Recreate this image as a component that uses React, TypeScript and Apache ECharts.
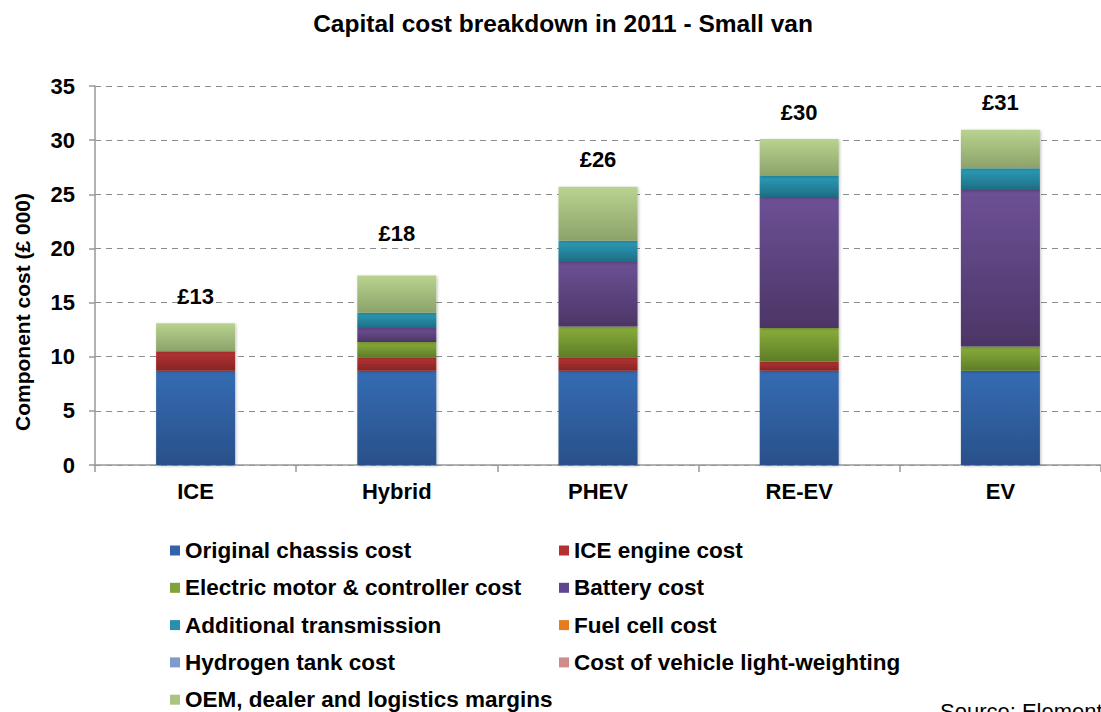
import React, { useEffect, useRef } from "react";
import * as echarts from "echarts";

const categories = ["ICE", "Hybrid", "PHEV", "RE-EV", "EV"];
const seriesNames = [
  "Original chassis cost",
  "ICE engine cost",
  "Electric motor & controller cost",
  "Battery cost",
  "Additional transmission",
  "Fuel cell cost",
  "Hydrogen tank cost",
  "Cost of vehicle light-weighting",
  "OEM, dealer and logistics margins",
];
const chassis = [8.7, 8.7, 8.7, 8.7, 8.7];
const iceEngine = [1.8, 1.25, 1.25, 0.85, 0];
const motor = [0, 1.4, 2.85, 3.1, 2.25];
const battery = [0, 1.3, 5.95, 12.1, 14.45];
const transmission = [0, 1.4, 1.95, 1.95, 2.0];
const fuelCell = [0, 0, 0, 0, 0];
const hydrogenTank = [0, 0, 0, 0, 0];
const lightWeighting = [0, 0, 0, 0, 0];
const margins = [2.6, 3.45, 5.0, 3.4, 3.55];
const totalLabels = ["£13", "£18", "£26", "£30", "£31"];
const yTicks = { min: 0, max: 35, interval: 5 };

const seriesValues = [
  chassis,
  iceEngine,
  motor,
  battery,
  transmission,
  fuelCell,
  hydrogenTank,
  lightWeighting,
  margins,
];

const grad = (top: string, bottom: string) =>
  new echarts.graphic.LinearGradient(0, 0, 0, 1, [
    { offset: 0, color: top },
    { offset: 1, color: bottom },
  ]);

const barColors = [
  ["#356cb3", "#29508a"],
  ["#b83434", "#872424"],
  ["#8aae3c", "#5e7d27"],
  ["#6d5196", "#4c3566"],
  ["#2c9dba", "#1d6d82"],
  ["#f08a24", "#c0661a"],
  ["#8aa6d4", "#6683b3"],
  ["#d99494", "#b57272"],
  ["#b9d38f", "#8ca26a"],
];
const legendColors = [
  "#3363a8",
  "#b53030",
  "#7fa23a",
  "#604590",
  "#2a8fac",
  "#e67c1e",
  "#7f9bcc",
  "#d08c8c",
  "#a9c47f",
];

const FONT = "'Liberation Sans', Arial, sans-serif";

export default function App() {
  const ref = useRef<HTMLDivElement>(null);
  useEffect(() => {
    if (!ref.current) return;
    const chart = echarts.init(ref.current, undefined, { renderer: "svg" });
    const series: any[] = seriesNames.map((name, si) => {
      const isTop = si === seriesNames.length - 1;
      return {
        name,
        type: "bar",
        stack: "total",
        barWidth: 79,
        itemStyle: {
          color: grad(barColors[si][0], barColors[si][1]),
          shadowColor: "rgba(0,0,0,0.25)",
          shadowBlur: 3,
          shadowOffsetX: 1,
          shadowOffsetY: 1,
        },
        emphasis: { disabled: true },
        data: seriesValues[si].map((v, i) =>
          isTop
            ? {
                value: v,
                label: { distance: i === 1 ? 31 : 16 },
              }
            : v
        ),
        label: isTop
          ? {
              show: true,
              position: "top",
              formatter: (p: any) => totalLabels[p.dataIndex],
              fontFamily: FONT,
              fontWeight: "bold",
              fontSize: 22,
              color: "#000",
            }
          : { show: false },
      };
    });
    const leftNames = [0, 2, 4, 6, 8].map((i) => seriesNames[i]);
    const rightNames = [1, 3, 5, 7].map((i) => seriesNames[i]);
    const legendCommon = {
      orient: "vertical",
      itemWidth: 10,
      itemHeight: 10,
      itemGap: 14.3,
      padding: 0,
      height: 300,
      icon: "rect",
      textStyle: {
        fontFamily: FONT,
        fontWeight: "bold",
        fontSize: 22.5,
        color: "#000",
        lineHeight: 22,
        padding: [0, 0, 0, 0],
      },
      selectedMode: false,
    };
    chart.setOption({
      animation: false,
      color: legendColors,
      title: {
        text: "Capital cost breakdown in 2011 - Small van",
        left: 558,
        top: 6,
        textAlign: "center",
        textStyle: { fontFamily: FONT, fontWeight: "bold", fontSize: 24.5, color: "#000" },
      },
      legend: [
        {
          ...legendCommon,
          left: 170,
          top: 539,
          data: leftNames.map((n) => ({
            name: n,
            itemStyle: { color: legendColors[seriesNames.indexOf(n)] },
          })),
        },
        {
          ...legendCommon,
          left: 559,
          top: 539,
          data: rightNames.map((n) => ({
            name: n,
            itemStyle: { color: legendColors[seriesNames.indexOf(n)] },
          })),
        },
      ],
      grid: { left: 95, right: 0, top: 86, bottom: 247, containLabel: false },
      xAxis: {
        type: "category",
        data: categories,
        axisLine: { show: true, lineStyle: { color: "#999", width: 1.5 } },
        axisTick: { show: true, length: 7, lineStyle: { color: "#999", width: 1.5 } },
        axisLabel: {
          fontFamily: FONT,
          fontWeight: "bold",
          fontSize: 22,
          color: "#000",
          margin: 15,
        },
      },
      yAxis: {
        type: "value",
        min: yTicks.min,
        max: yTicks.max,
        interval: yTicks.interval,
        axisLine: { show: true, lineStyle: { color: "#999", width: 1.5 } },
        axisTick: { show: true, length: 6, lineStyle: { color: "#999", width: 1.5 } },
        splitLine: {
          show: true,
          lineStyle: { color: "#8c8c8c", type: [6, 5], width: 1.2 },
        },
        axisLabel: {
          fontFamily: FONT,
          fontWeight: "bold",
          fontSize: 22,
          color: "#000",
          margin: 20,
        },
      },
      graphic: [
        {
          type: "text",
          x: 22,
          y: 312,
          rotation: Math.PI / 2,
          style: {
            text: "Component cost (£ 000)",
            fontFamily: FONT,
            fontWeight: "bold",
            fontSize: 21,
            fill: "#000",
            align: "center",
            verticalAlign: "middle",
          },
        },
        {
          type: "text",
          left: 940,
          top: 700,
          style: {
            text: "Source: Element Energy",
            fontFamily: FONT,
            fontSize: 22,
            fill: "#000",
          },
        },
      ],
      series,
    });
    return () => chart.dispose();
  }, []);
  return (
    <div
      ref={ref}
      style={{ position: "fixed", left: 0, top: 0, width: 1101, height: 712, background: "#fff" }}
    />
  );
}
